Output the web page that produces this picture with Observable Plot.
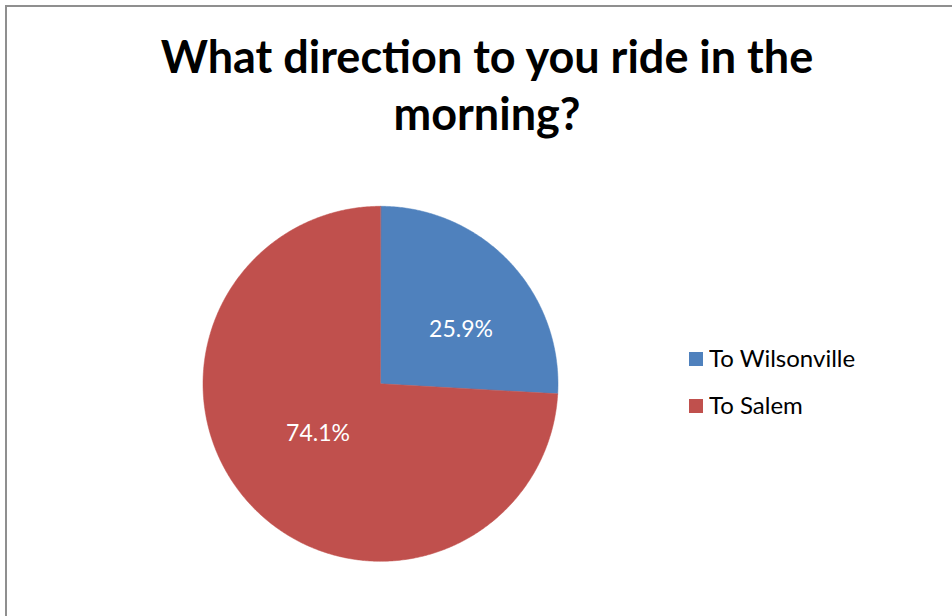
<!DOCTYPE html>
<html>
<head>
<meta charset="utf-8">
<script src="https://cdn.jsdelivr.net/npm/d3@7"></script>
<script src="https://cdn.jsdelivr.net/npm/@observablehq/plot@0.6"></script>
<style>
html, body { margin: 0; padding: 0; background: #fff; width: 952px; height: 616px; overflow: hidden; }
#frame { position: absolute; left: 5px; top: 5px; width: 1000px; height: 700px; border-top: 2px solid #8f8f8f; border-left: 2px solid #8f8f8f; box-sizing: border-box; }
#title { position: absolute; left: 0; top: 28px; width: 974px; text-align: center; font-family: Lato, sans-serif; font-weight: bold; font-size: 45px; line-height: 57px; color: #000; }
#chart { position: absolute; left: 0; top: 0; }
#legend { position: absolute; left: 689px; top: 335px; }
#legend .lg-swatch { height: 47px; display: flex; align-items: center; padding: 0; }
#legend .lg-swatch > svg { margin-right: 6px; }
#legend .lg-swatch-label { font-family: Lato, sans-serif; font-size: 24px; color: #000; line-height: 1.2; }
</style>
</head>
<body>
<div id="frame"></div>
<div id="chart"></div>
<div id="title">What direction to you ride in the<br>morning?</div>
<div id="legend"></div>
<script>
const categories = ["To Wilsonville", "To Salem"];
const values = [25.9, 74.1];
const labels = ["25.9%", "74.1%"];
const colors = ["#4f81bd", "#c0504d"];

// slice outlines built from the values (unit circle, clockwise from 12 o'clock)
const arcs = d3.pie().sort(null).startAngle(0).endAngle(2 * Math.PI)(values);
const points = [];
arcs.forEach((a, i) => {
  const cat = categories[i];
  points.push({cat, x: 0, y: 0});
  const n = Math.max(2, Math.ceil((a.endAngle - a.startAngle) / (Math.PI / 360)));
  for (let k = 0; k <= n; k++) {
    const t = a.startAngle + (a.endAngle - a.startAngle) * k / n;
    points.push({cat, x: Math.sin(t), y: Math.cos(t)});
  }
});
const centroids = arcs.map((a, i) => {
  const m = (a.startAngle + a.endAngle) / 2;
  return {cat: categories[i], label: labels[i], x: 0.5 * Math.sin(m), y: 0.5 * Math.cos(m)};
});
const labelOffsets = [[16, 7], [2, -11]];

const chart = Plot.plot({
  width: 952,
  height: 616,
  margin: 0,
  style: {background: "transparent", overflow: "visible"},
  x: {domain: [-1, 1], range: [202.5, 557.5], axis: null},
  y: {domain: [-1, 1], range: [560.8, 205.8], axis: null},
  color: {domain: categories, range: colors},
  marks: [
    Plot.line(points, {x: "x", y: "y", z: "cat", fill: "cat", stroke: "cat", strokeWidth: 0.5, curve: "linear-closed"}),
    ...centroids.map((c, i) => Plot.text([c], {
      x: "x", y: "y", text: "label", fill: "white",
      fontSize: 23, fontFamily: "Lato, sans-serif",
      dx: labelOffsets[i][0], dy: labelOffsets[i][1]
    }))
  ]
});
document.getElementById("chart").appendChild(chart);
document.getElementById("legend").appendChild(
  chart.legend("color", {columns: 1, swatchSize: 14, className: "lg"})
);
</script>
</body>
</html>
